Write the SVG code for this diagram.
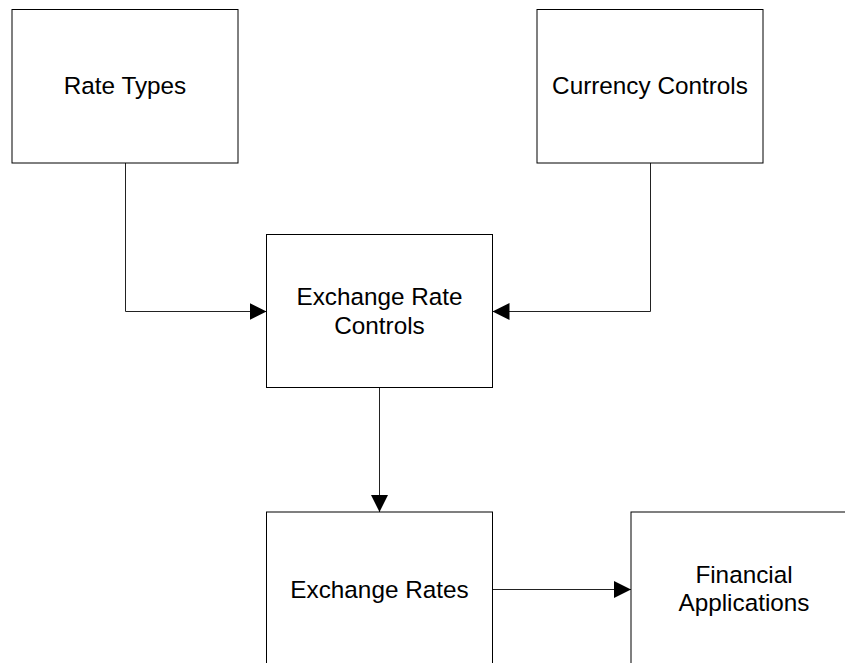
<svg xmlns="http://www.w3.org/2000/svg" width="845" height="663" viewBox="0 0 845 663">
<defs>
<style>
.box{fill:#fff;stroke:#000;stroke-width:1}
.lbl{font-family:"Liberation Sans",Arial,sans-serif;font-size:24.3px;fill:#000;text-anchor:middle}
.con{fill:none;stroke:#222;stroke-width:1}
</style>
<marker id="arr" markerWidth="17" markerHeight="17" viewBox="0 0 17 17" refX="17" refY="8.5" orient="auto" markerUnits="userSpaceOnUse">
<path d="M0,0 L17,8.5 L0,17 Z" fill="#000"/>
</marker>
</defs>
<rect width="845" height="663" fill="#fff"/>
<g id="connectors">
<path class="con" d="M125.5,163 V311.5 H266.5" marker-end="url(#arr)"/>
<path class="con" d="M650.5,163 V311.5 H492.5" marker-end="url(#arr)"/>
<path class="con" d="M379.5,388 V512" marker-end="url(#arr)"/>
<path class="con" d="M492.5,589.5 H631" marker-end="url(#arr)"/>
</g>
<g id="rate-types">
<rect class="box" x="12" y="9.5" width="226" height="153.5"/>
<text class="lbl" x="125" y="94">Rate Types</text>
</g>
<g id="currency-controls">
<rect class="box" x="537" y="9.5" width="226" height="153.5"/>
<text class="lbl" x="650" y="94">Currency Controls</text>
</g>
<g id="exchange-rate-controls">
<rect class="box" x="266.5" y="234.5" width="226" height="153"/>
<text class="lbl" x="379.5" y="305">Exchange Rate</text>
<text class="lbl" x="379.5" y="334">Controls</text>
</g>
<g id="exchange-rates">
<rect class="box" x="266.5" y="512" width="226" height="153"/>
<text class="lbl" x="379.5" y="598">Exchange Rates</text>
</g>
<g id="financial-applications">
<rect class="box" x="631" y="512" width="226" height="153"/>
<text class="lbl" x="744" y="583">Financial</text>
<text class="lbl" x="744" y="611">Applications</text>
</g>
</svg>
